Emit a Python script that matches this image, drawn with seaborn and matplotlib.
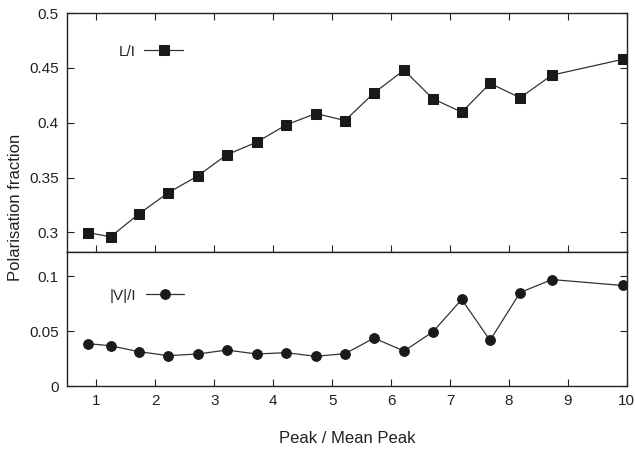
import numpy as np
import pandas as pd
import matplotlib
matplotlib.use("Agg")
import matplotlib.pyplot as plt
import seaborn as sns

peak_ratio = [0.86, 1.24, 1.72, 2.22, 2.72, 3.21, 3.72, 4.22, 4.72, 5.22,
              5.71, 6.22, 6.71, 7.20, 7.68, 8.19, 8.73, 9.93]
lin_frac = [0.2997, 0.2960, 0.3168, 0.3362, 0.3515, 0.3707, 0.3823, 0.3980, 0.4084, 0.4020,
            0.4272, 0.4479, 0.4219, 0.4096, 0.4359, 0.4228, 0.4434, 0.4578]
circ_frac = [0.0386, 0.0367, 0.0313, 0.0277, 0.0292, 0.0328, 0.0292, 0.0304, 0.0271, 0.0295,
             0.0437, 0.0319, 0.0494, 0.0789, 0.0416, 0.0852, 0.0970, 0.0916]

top_yticks = [0.3, 0.35, 0.4, 0.45, 0.5]
top_ylabels = ["0.3", "0.35", "0.4", "0.45", "0.5"]
bot_yticks = [0, 0.05, 0.1]
bot_ylabels = ["0", "0.05", "0.1"]
xticks = [1, 2, 3, 4, 5, 6, 7, 8, 9, 10]

sns.set_style("ticks")
plt.rcParams['font.family'] = ['Liberation Sans', 'DejaVu Sans']
plt.rcParams['font.size'] = 11

df = pd.DataFrame({"x": peak_ratio, "lin": lin_frac, "circ": circ_frac})

fig = plt.figure(figsize=(6.35, 4.51), dpi=100)
ax1 = fig.add_axes([0.1055, 0.441, 0.8815, 0.530])
ax2 = fig.add_axes([0.1055, 0.144, 0.8815, 0.297])

line_col = "#333333"
sns.lineplot(data=df, x="x", y="lin", ax=ax1, color=line_col, lw=0.9,
             marker="s", markersize=7, markerfacecolor="#1a1a1a",
             markeredgecolor="#1a1a1a", label="L/I")
sns.lineplot(data=df, x="x", y="circ", ax=ax2, color=line_col, lw=0.9,
             marker="o", markersize=7, markerfacecolor="#1a1a1a",
             markeredgecolor="#1a1a1a", label="|V|/I")

for ax in (ax1, ax2):
    ax.set_xlim(0.5, 10)
    ax.set_xticks(xticks)
    ax.tick_params(direction="in", top=True, right=True, length=5, width=0.8,
                   colors="#222222", labelsize=11, pad=6)
    for s in ax.spines.values():
        s.set_linewidth(1.0)
        s.set_color("#222222")
    ax.set_xlabel("")
    ax.set_ylabel("")

ax1.set_ylim(0.282, 0.5)
ax1.set_yticks(top_yticks)
ax1.set_yticklabels(top_ylabels)
ax1.tick_params(labelbottom=False)

ax2.set_ylim(0, 0.122)
ax2.set_yticks(bot_yticks)
ax2.set_yticklabels(bot_ylabels)
ax2.tick_params(top=False)
ax2.set_xticklabels([str(t) for t in xticks])

for ax, anchor in ((ax1, (0.078, 0.90)), (ax2, (0.063, 0.785))):
    ax.legend(loc="upper left", bbox_to_anchor=anchor, frameon=False,
              markerfirst=False, handlelength=2.5, handletextpad=0.6,
              borderpad=0, fontsize=11)

fig.text(0.547, 0.012, "Peak / Mean Peak", ha="center", va="bottom", fontsize=12, color="#222222")
fig.text(0.012, 0.54, "Polarisation fraction", rotation=90, ha="left", va="center",
         fontsize=12, color="#222222")

fig.savefig("out.png", dpi=100)
